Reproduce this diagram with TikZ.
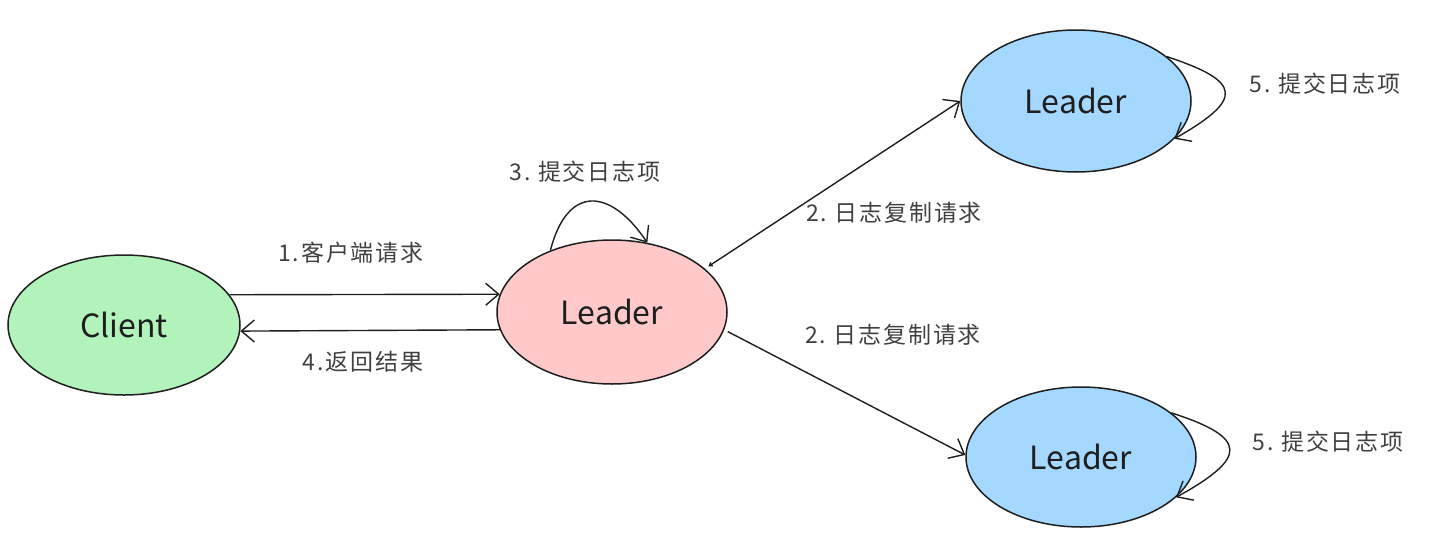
\documentclass[tikz,border=0pt]{standalone}
\usepackage{fontspec}
\setmainfont{Noto Sans CJK SC}
\newfontfamily\lblfont[LetterSpace=8]{Noto Sans CJK SC}
\usetikzlibrary{shapes.geometric,arrows.meta}
\definecolor{ink}{HTML}{1E1E1E}
\definecolor{cgreen}{HTML}{B2F2BB}
\definecolor{cpink}{HTML}{FFC9C9}
\definecolor{cblue}{HTML}{A5D8FF}
\tikzset{
  oval/.style={ellipse, draw=ink, line width=1.5pt, minimum width=#1, font=\fontsize{32}{34}\selectfont, text=ink, inner sep=0pt},
  conn/.style={draw=ink, line width=1.4pt, -{Straight Barb[length=13pt,width=22pt,line width=1.4pt]}},
  lbl/.style={font=\lblfont\fontsize{23}{25}\selectfont, text=ink!85, inner sep=0pt},
}
\begin{document}
\begin{tikzpicture}[x=1pt,y=-1pt]
\path[use as bounding box] (0,0) rectangle (1448,541);
\node[oval=232pt, minimum height=140pt, fill=cgreen] (client) at (124,325) {Client};
\node[oval=230pt, minimum height=144pt, fill=cpink] (leader) at (612,312) {Leader};
\node[oval=230pt, minimum height=142pt, fill=cblue] (f1) at (1076,101) {Leader};
\node[oval=230pt, minimum height=140pt, fill=cblue] (f2) at (1081,457) {Leader};

\draw[conn] (client.16) -- (leader.171);
\draw[conn] (leader.189) -- (client.-3);
\draw[conn] (leader.135) .. controls +(17,-66) and +(-37,-55) .. (leader.63);
\draw[conn, {Straight Barb[length=3pt,width=4pt,line width=1.4pt]}-{Straight Barb[length=13pt,width=22pt,line width=1.4pt]}, shorten <=4pt] (leader.25) -- (f1.180);
\draw[conn, shorten <=4pt] (leader.-9) -- (f2.179);
\draw[conn] (f1.26) .. controls +(75,25) and +(70,-40) .. (f1.-21);
\draw[conn] (f2.26) .. controls +(77,25) and +(72,-40) .. (f2.-23);

\node[lbl] (l1) at (351,253) {1.客户端请求};
\node[lbl] (l4) at (363,362) {4.返回结果};
\node[lbl] (l3) at (585,172) {3.\,\,提交日志项};
\node[lbl] (l2a) at (894,213) {2.\,\,日志复制请求};
\node[lbl] (l2b) at (893,335) {2.\,\,日志复制请求};
\node[lbl] (l5a) at (1325,84) {5.\,\,提交日志项};
\node[lbl] (l5b) at (1328,442) {5.\,\,提交日志项};
\end{tikzpicture}
\end{document}
